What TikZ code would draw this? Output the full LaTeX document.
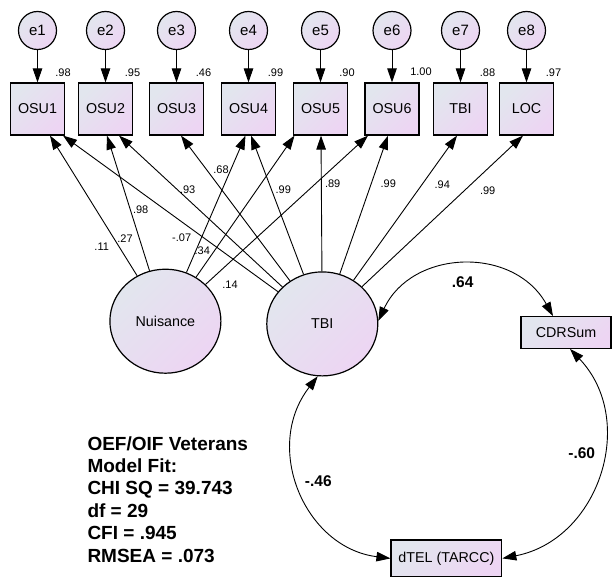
\documentclass[tikz,border=0pt]{standalone}
\usepackage{fontspec}
\setmainfont{Liberation Sans}
\usetikzlibrary{arrows.meta,shapes.geometric}
\definecolor{ga}{RGB}{226,230,238}
\definecolor{gb}{RGB}{237,213,243}
\tikzset{
 grad/.style={top color=ga, bottom color=gb, shading angle=45},
 obs/.style={draw, line width=1.2pt, grad, minimum width=54pt, minimum height=52pt, inner sep=0pt, font=\fontsize{14.3}{16}\selectfont},
 errc/.style={draw, circle, line width=1.2pt, grad, minimum size=38pt, inner sep=0pt, font=\fontsize{15}{16}\selectfont},
 lat/.style={draw, ellipse, line width=1.2pt, grad, minimum width=111pt, minimum height=104pt, inner sep=0pt, font=\fontsize{14.3}{16}\selectfont},
 wbox/.style={draw, line width=1.2pt, grad, inner sep=0pt, font=\fontsize{14.3}{16}\selectfont},
 arr/.style={-{Triangle[length=14pt,width=9.5pt]}, line width=0.9pt},
 darr/.style={{Triangle[length=14pt,width=9.5pt]}-{Triangle[length=14pt,width=9.5pt]}, line width=0.9pt},
 sm/.style={font=\fontsize{11}{12}\selectfont, inner sep=0pt},
 bl/.style={font=\bfseries\fontsize{15.5}{17}\selectfont, inner sep=0pt},
 fit/.style={font=\bfseries\fontsize{19}{21}\selectfont, inner sep=0pt, anchor=base west},
}
\begin{document}
\begin{tikzpicture}[x=1pt,y=-1pt]
\useasboundingbox[fill=white] (0,0) rectangle (613,578);
% error terms
\foreach \i/\x in {1/37.5,2/105.5,3/176.5,4/248.5,5/320.5,6/392,7/460.5,8/526.5}{
  \node[errc] (e\i) at (\x,30.5) {e\i};
}
% observed indicators
\node[obs] (osu1) at (37.5,109) {OSU1};
\node[obs] (osu2) at (105.5,109) {OSU2};
\node[obs] (osu3) at (176.5,109) {OSU3};
\node[obs] (osu4) at (248.5,109) {OSU4};
\node[obs] (osu5) at (320.5,109) {OSU5};
\node[obs] (osu6) at (392,109) {OSU6};
\node[obs] (tbib) at (460.5,109) {TBI};
\node[obs] (loc) at (526.5,109) {LOC};
\foreach \i/\n in {1/osu1,2/osu2,3/osu3,4/osu4,5/osu5,6/osu6,7/tbib,8/loc}{
  \draw[arr] (e\i) -- (\n);
}
% latent
\node[lat] (nuis) at (165.4,321.2) {Nuisance};
\node[lat] (tbi) at (322.3,323.9) {TBI};
% other measures
\node[wbox, minimum width=90pt, minimum height=31.6pt] (cdr) at (566,332.5) {CDRSum};
\node[wbox, minimum width=110.7pt, minimum height=36.7pt] (dtel) at (446.4,558.4) {dTEL (TARCC)};
% loadings from Nuisance
\draw[arr] (nuis) -- ([xshift=12.5pt]osu1.south);
\draw[arr] (nuis) -- ([xshift=1.5pt]osu2.south);
\draw[arr] (nuis) -- ([xshift=-3pt]osu4.south);
\draw[arr] (nuis) -- ([xshift=-26pt]osu5.south);
\draw[arr] (nuis) -- ([xshift=-24pt]osu6.south);
% loadings from TBI
\draw[arr] (tbi) -- ([xshift=25.5pt]osu1.south);
\draw[arr] (tbi) -- ([xshift=13.5pt]osu2.south);
\draw[arr] (tbi) -- ([xshift=4.5pt]osu3.south);
\draw[arr] (tbi) -- ([xshift=2.5pt]osu4.south);
\draw[arr] (tbi) -- ([xshift=0.5pt]osu5.south);
\draw[arr] (tbi) -- ([xshift=-4pt]osu6.south);
\draw[arr] (tbi) -- ([xshift=-3.5pt]tbib.south);
\draw[arr] (tbi) -- ([xshift=-3.5pt]loc.south);
% covariances
\draw[darr] (tbi.3) .. controls (411.7,249.3) and (513.6,245.3) .. ([xshift=-13pt]cdr.north);
\draw[darr] (tbi.265) .. controls (262.4,447.3) and (304.7,547.7) .. (dtel.west);
\draw[darr] ([xshift=4pt]cdr.south) .. controls (637.9,420.3) and (599.2,539.5) .. (dtel.east);
% R-squared labels
\node[sm] (r1) at (63,73) {.98};
\node[sm] (r2) at (132.5,72.5) {.95};
\node[sm] (r3) at (203.5,72.5) {.46};
\node[sm] (r4) at (275.5,72.5) {.99};
\node[sm] (r5) at (347,72.5) {.90};
\node[sm] (r6) at (421,72) {1.00};
\node[sm] (r7) at (487.5,73) {.88};
\node[sm] (r8) at (553.5,72.5) {.97};
% loading labels
\node[sm] (l1) at (101.7,246.7) {.11};
\node[sm] (l2) at (125,238.3) {.27};
\node[sm] (l3) at (140.7,210) {.98};
\node[sm] (l4) at (187.7,190) {.93};
\node[sm] (l5) at (221,170) {.68};
\node[sm] (l6) at (181.7,237.3) {-.07};
\node[sm] (l7) at (202.3,250.7) {.34};
\node[sm] (l8) at (230,284.3) {.14};
\node[sm] (l9) at (283.3,190) {.99};
\node[sm] (l10) at (332.7,184) {.89};
\node[sm] (l11) at (388.3,183.3) {.99};
\node[sm] (l12) at (442.3,185) {.94};
\node[sm] (l13) at (487.7,191) {.99};
% covariance labels
\node[bl] (c1) at (462.7,281.7) {.64};
\node[bl] (c2) at (318.3,480.7) {-.46};
\node[bl] (c3) at (581.7,453.3) {-.60};
% fit text
\node[fit] (f1) at (87.3,450) {OEF/OIF Veterans};
\node[fit] (f2) at (87.3,472.4) {Model Fit:};
\node[fit] (f3) at (87.3,494.8) {CHI SQ = 39.743};
\node[fit] (f4) at (87.3,517.2) {df = 29};
\node[fit] (f5) at (87.3,539.6) {CFI = .945};
\node[fit] (f6) at (87.3,562) {RMSEA = .073};
\end{tikzpicture}
\end{document}
